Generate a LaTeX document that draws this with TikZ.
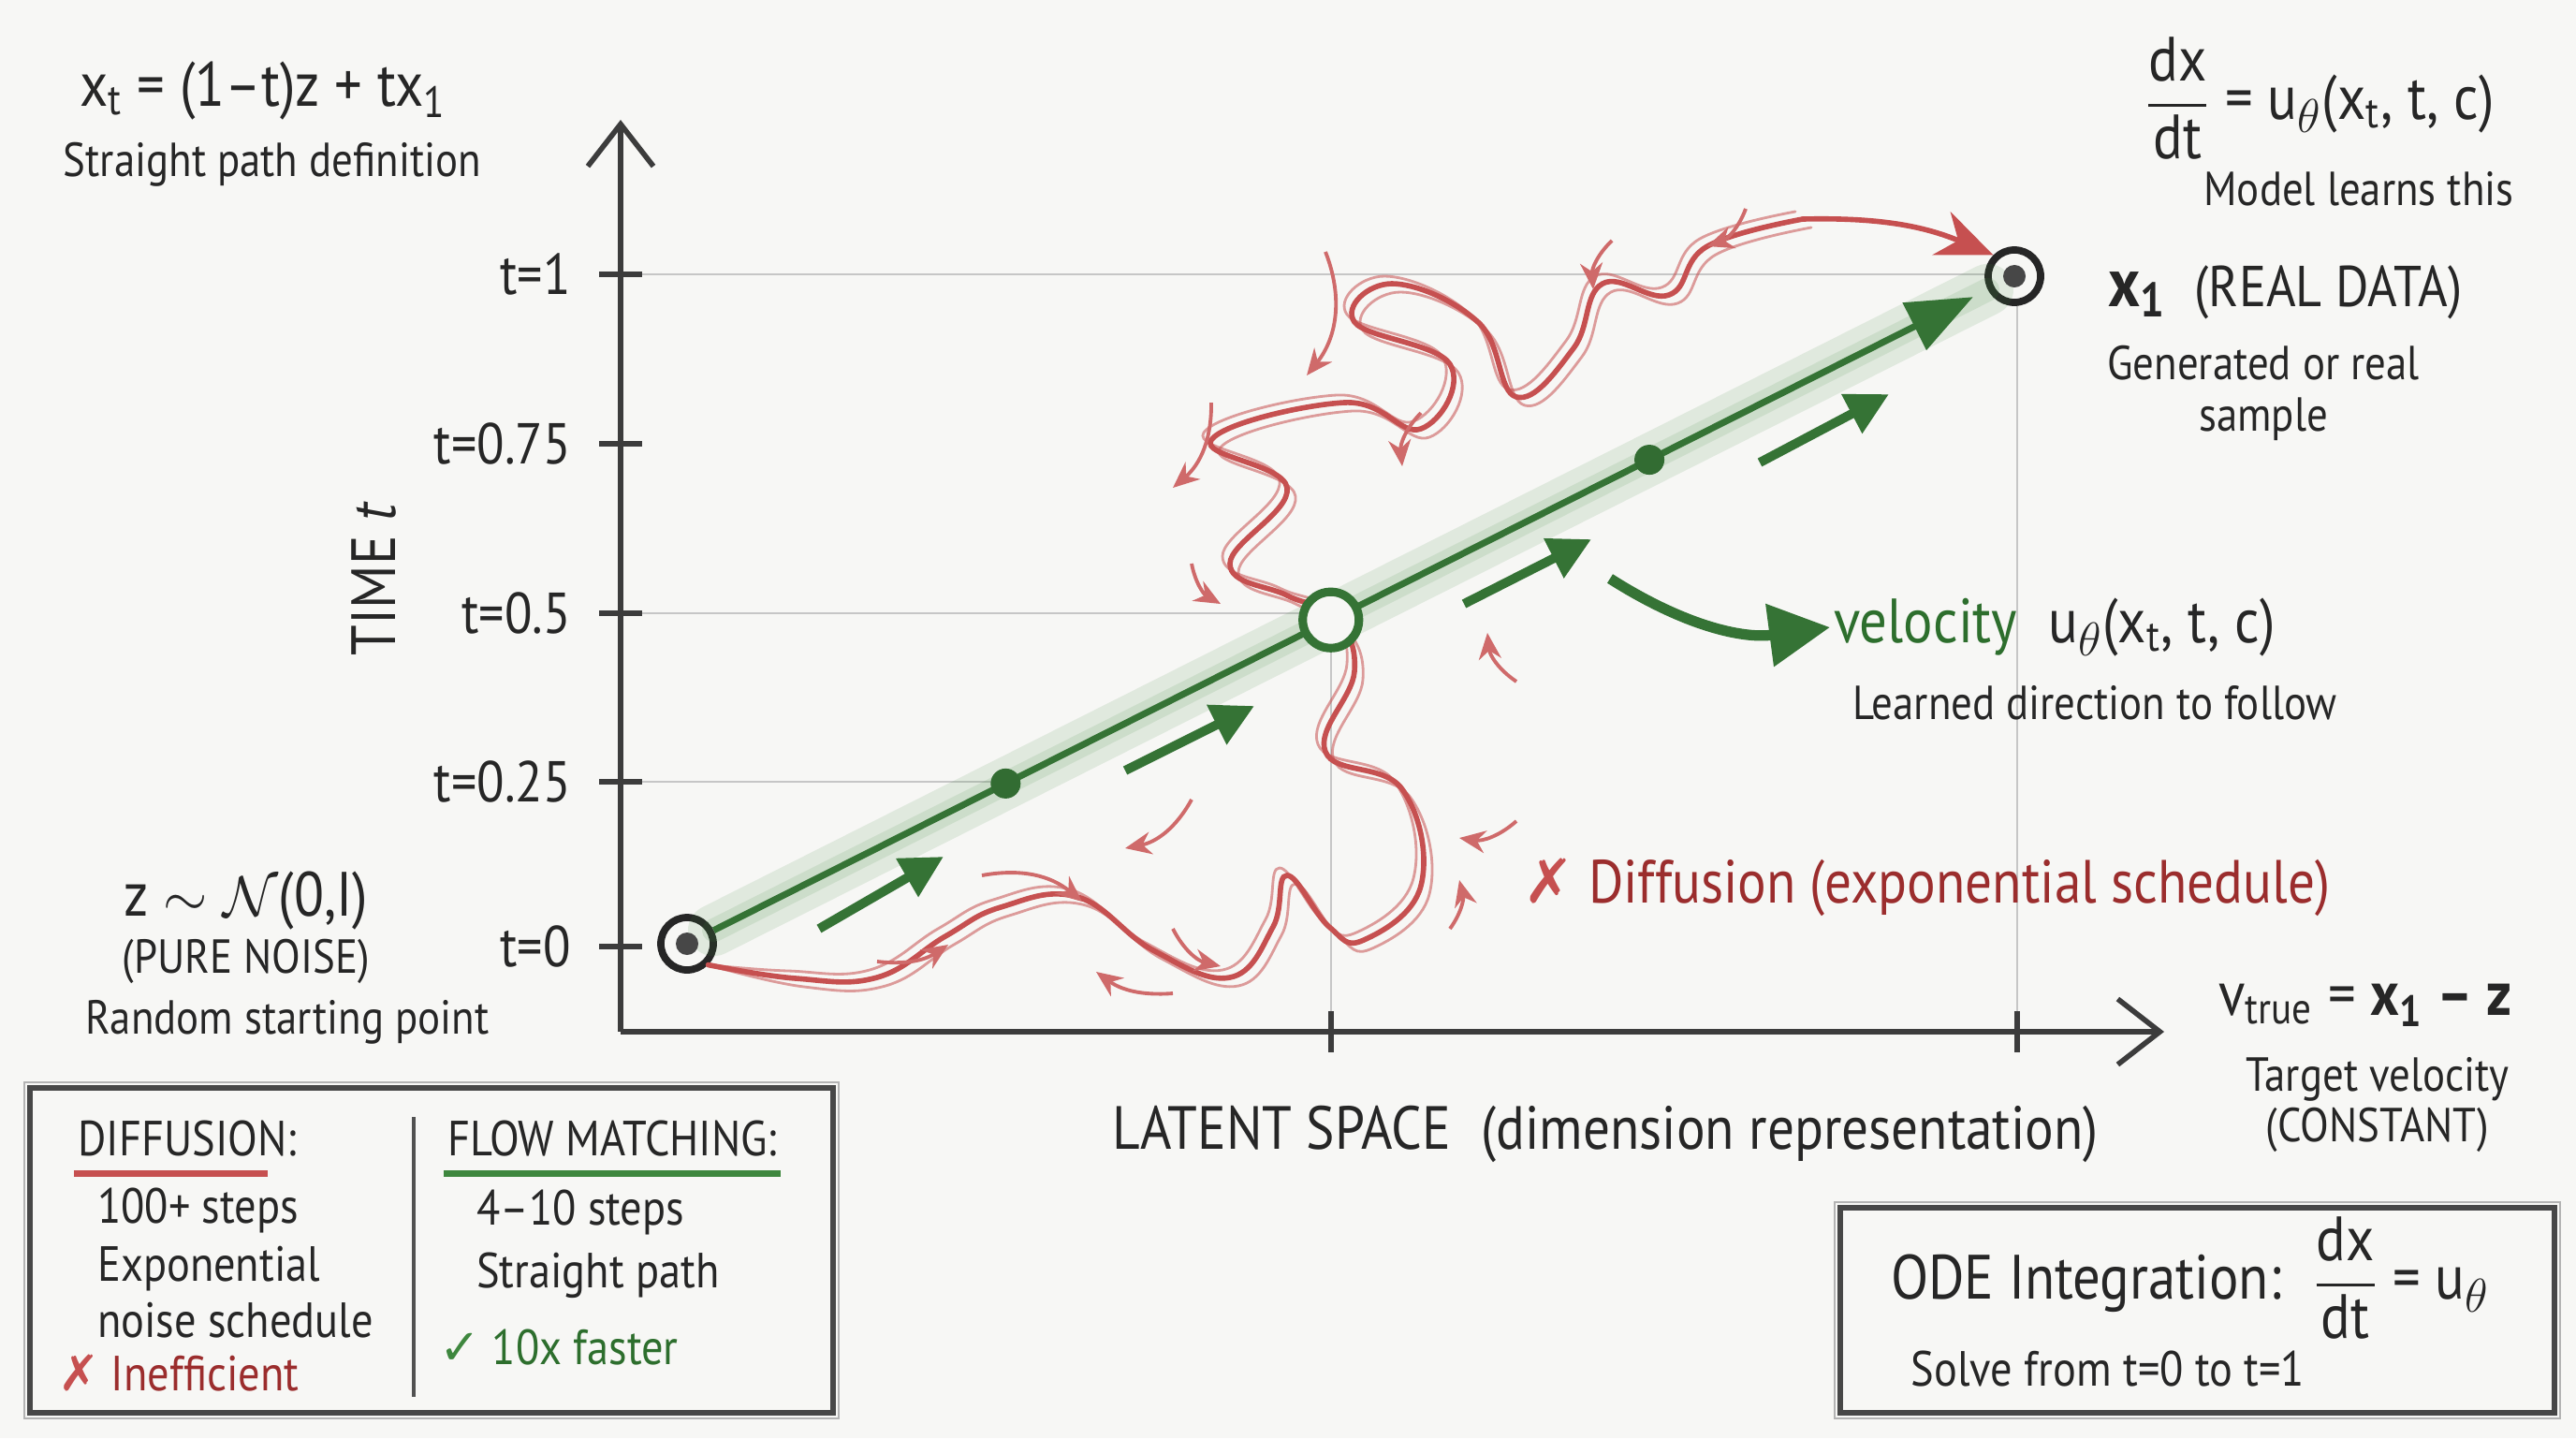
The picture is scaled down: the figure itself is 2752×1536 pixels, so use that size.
\documentclass[tikz,border=0pt]{standalone}
\usepackage{amsmath}
\usepackage{fontspec}
\setmainfont{PT Sans}[FakeStretch=0.88]
\newfontfamily\symfont{DejaVu Sans}
\usetikzlibrary{positioning,arrows.meta,calc}
\definecolor{ink}{RGB}{38,38,38}
\definecolor{paper}{RGB}{247,247,245}
\definecolor{gridgray}{RGB}{198,198,198}
\definecolor{green}{RGB}{62,135,62}
\definecolor{darkgreen}{RGB}{45,110,45}
\definecolor{red}{RGB}{198,80,80}
\definecolor{darkred}{RGB}{155,45,45}
\tikzset{
    txt/.style={font=\fontsize{14.5}{15.5}\selectfont, text=ink, inner sep=1pt, align=center},
    bigtxt/.style={font=\fontsize{17.5}{20}\selectfont, text=ink, inner sep=1pt},
    boxtxt/.style={font=\fontsize{15}{17}\selectfont, text=ink, inner sep=1pt, anchor=west},
    ticklbl/.style={font=\fontsize{17.5}{20}\selectfont, text=ink, inner sep=1pt, anchor=east},
    axis/.style={draw=ink!90, line width=1.8pt, -{Straight Barb[length=4.5mm, width=7mm, line width=1.6pt]}},
    tickmark/.style={draw=ink!90, line width=1.8pt},
    gridline/.style={draw=gridgray, line width=0.7pt},
    endpt/.style={circle, draw=ink, line width=2.2pt, fill=paper, minimum size=0.56cm, inner sep=0pt},
    midpt/.style={circle, draw=green!85!black, line width=2.6pt, fill=paper, minimum size=0.6cm, inner sep=0pt},
    dot/.style={circle, fill=green!80!black, minimum size=0.32cm, inner sep=0pt},
    flow/.style={draw=green!85!black, line width=2pt, -{Triangle[length=7mm, width=5.5mm]}},
    glow/.style={draw=green, line cap=round, opacity=0.12},
    steparrow/.style={draw=green!85!black, line width=2.8pt, -{Triangle[length=4.5mm, width=4.5mm]}},
    velarrow/.style={draw=green!85!black, line width=3.2pt, -{Triangle[length=6.5mm, width=6.5mm]}},
    noisy/.style={draw=red, line width=1.6pt, line cap=round},
    faintnoisy/.style={draw=red, line width=0.8pt, line cap=round, opacity=0.55},
    noisetip/.style={draw=red!85, line width=1.1pt, -{Stealth[length=2.8mm, width=2.4mm]}},
    sketchbox/.style={draw=ink!85, line width=1.8pt},
    sketchedge/.style={draw=ink!35, line width=0.8pt}
}

\begin{document}
\begin{tikzpicture}[x=0.01cm, y=-0.01cm]
\useasboundingbox[fill=paper] (0,0) rectangle (2752,1536);

% grid and axes
\coordinate (O) at (663,1102);
\coordinate (ytop) at (663,128);
\coordinate (xend) at (2312,1102);
\draw[gridline] (663,293) -- (2152,293);
\draw[gridline] (663,655) -- (1422,655);
\draw[gridline] (663,835) -- (1074,835);
\draw[gridline] (1422,655) -- (1422,1102);
\draw[gridline] (2155,293) -- (2155,1102);
\draw[axis] (O) -- (ytop);
\draw[axis] (O) -- (xend);
\foreach \y/\t in {1011/0, 835/0.25, 655/0.5, 474/0.75, 293/1}{
    \draw[tickmark] (640,\y) -- (686,\y);
    \node[ticklbl] at (614,\y) {t=\t};
}
\foreach \x in {1422,2155}
    \draw[tickmark] (\x,1080) -- (\x,1124);

\node[bigtxt, rotate=90, font=\fontsize{19}{22}\selectfont] (time) at (400,618) {TIME \textit{t}};
\node[bigtxt, font=\fontsize{18.5}{22}\selectfont] (latent) at (1715,1211) {LATENT SPACE\enspace(dimension representation)};

% end points
\node[endpt] (z) at (734,1008) {};
\node[endpt] (x1) at (2152,295) {};

% diffusion path
\foreach \s/\st in {9/faintnoisy, -8/faintnoisy, 0/noisy}
    \draw[\st, shift={(\s,\s)}] plot[smooth, tension=0.7] coordinates {(z.south east) (850,1045) (937,1044) (1010,1000) (1069,969) (1151,958) (1232,1015) (1314,1044) (1360,990) (1375,935) (1420,990) (1457,1004) (1518,946) (1498,843) (1416,803) (1447,717) (1426,659) (1375,636) (1314,602) (1375,521) (1294,470) (1436,430) (1518,458) (1549,389) (1447,344) (1487,303) (1579,344) (1620,424) (1681,372) (1712,303) (1783,315) (1824,263) (1926,234)};
\coordinate (lastwiggle) at (1926,234);
\draw[noisy, -{Stealth[length=6mm, width=5mm]}] (lastwiggle) to[bend left=12] (x1.north west);
\foreach \a/\b/\bd in {{937,1027}/{1013,1009}/-20, {1049,935}/{1156,963}/25, {1273,854}/{1202,906}/25,
    {1253,992}/{1304,1032}/-25, {1253,1061}/{1171,1038}/20, {1620,877}/{1559,895}/25,
    {1549,992}/{1559,940}/-25, {1620,728}/{1589,676}/25, {1273,602}/{1304,645}/-25,
    {1294,430}/{1253,521}/25, {1518,441}/{1498,498}/-25, {1416,269}/{1396,401}/30,
    {1722,257}/{1702,309}/-25, {1865,223}/{1824,263}/25}
    \draw[noisetip] (\a) to[bend left=\bd] (\b);

% flow matching path
\draw[glow, line width=0.55cm] (z) -- (x1);
\draw[glow, line width=0.25cm] (z) -- (x1);
\draw[flow, shorten >=5pt] (z) -- (x1);
\foreach \a/\b in {{875,992}/{1008,915}, {1202,823}/{1340,754}, {1564,645}/{1700,576}, {1880,494}/{2018,421}}
    \draw[steparrow] (\a) -- (\b);
\node[midpt] (mid) at ($(z.center)!0.485!(x1.center)$) {};
\node[dot] (q1) at ($(z.center)!0.24!(x1.center)$) {};
\node[dot] (q3) at ($(z.center)!0.725!(x1.center)$) {};
\fill[ink!85] (z.center) circle (0.12cm);
\fill[ink!85] (x1.center) circle (0.12cm);

% labels
\node[bigtxt, font=\fontsize{19}{22}\selectfont] (path) at (281,97) {x\textsubscript{t} = (1--t)z + tx\textsubscript{1}};
\node[txt] (pathdesc) at (291,176) {Straight path definition};
\node[bigtxt, font=\fontsize{19}{22}\selectfont] (ode) at (2478,105) {$\dfrac{\text{dx}}{\text{dt}}$ = u$_\theta$(x\textsubscript{t}, t, c)};
\node[txt] (odedesc) at (2520,202) {Model learns this};
\node[bigtxt, anchor=west] (data) at (2248,312) {{\bfseries\fontsize{21}{22}\selectfont x\textsubscript{1}}\enspace(REAL DATA)};
\node[txt] (datadesc) at (2418,420) {Generated or real\\sample};
\node[bigtxt, font=\fontsize{19}{22}\selectfont] (noise) at (263,962) {z $\sim\mathcal{N}$(0,I)};
\node[txt] (pure) at (263,1027) {(PURE NOISE)};
\node[txt] (noisedesc) at (307,1092) {Random starting point};
\node[bigtxt, anchor=west, font=\fontsize{19}{22}\selectfont] (vel) at (1955,670) {\textcolor{darkgreen}{velocity}\enspace u$_\theta$(x\textsubscript{t}, t, c)};
\node[txt] (veldesc) at (2238,751) {Learned direction to follow};
\coordinate (velfrom) at (1720,618);
\draw[velarrow] (velfrom) to[bend right=20] (vel.west);
\node[bigtxt, anchor=west, text=darkred, font=\fontsize{18.5}{22}\selectfont] (diff) at (1623,948) {{\symfont\textcolor{red}{✗}} Diffusion (exponential schedule)};
\node[bigtxt, font=\fontsize{19}{22}\selectfont] (vtrue) at (2527,1074) {v\textsubscript{true} = {\bfseries x\textsubscript{1} -- z}};
\node[txt] (vtruedesc) at (2540,1180) {Target velocity\\(CONSTANT)};

% comparison box
\draw[sketchedge] (26,1156) rectangle (896,1515);
\draw[sketchbox] (32,1162) rectangle (890,1509);
\draw[ink!80, line width=1.2pt] (442,1193) -- (442,1492);
\node[boxtxt] (dif) at (79,1216) {DIFFUSION:};
\draw[red, line width=1.8pt] ([yshift=-4pt]dif.south west) -- ([yshift=-4pt, xshift=-10pt]dif.south east);
\node[boxtxt] (dsteps) at (100,1293) {100+ steps};
\node[boxtxt, align=left] (dsched) at (100,1380) {Exponential\\noise schedule};
\node[boxtxt, text=darkred] (dbad) at (58,1466) {{\symfont\textcolor{red}{✗}} Inefficient};
\node[boxtxt] (fm) at (474,1216) {FLOW MATCHING:};
\draw[green, line width=1.8pt] ([yshift=-4pt]fm.south west) -- ([yshift=-4pt]fm.south east);
\node[boxtxt] (fsteps) at (505,1295) {4--10 steps};
\node[boxtxt] (fpath) at (505,1362) {Straight path};
\node[boxtxt, text=darkgreen] (fgood) at (465,1439) {{\symfont\textcolor{green}{✓}} 10x faster};

% integration box
\draw[sketchedge] (1960,1284) rectangle (2735,1515);
\draw[sketchbox] (1966,1290) rectangle (2729,1509);
\node[bigtxt, font=\fontsize{19}{22}\selectfont] (integ) at (2340,1365) {ODE Integration:\enspace$\dfrac{\text{dx}}{\text{dt}}$ = u$_\theta$};
\node[txt, font=\fontsize{15}{17}\selectfont] (solve) at (2252,1462) {Solve from t=0 to t=1};
\end{tikzpicture}
\end{document}
